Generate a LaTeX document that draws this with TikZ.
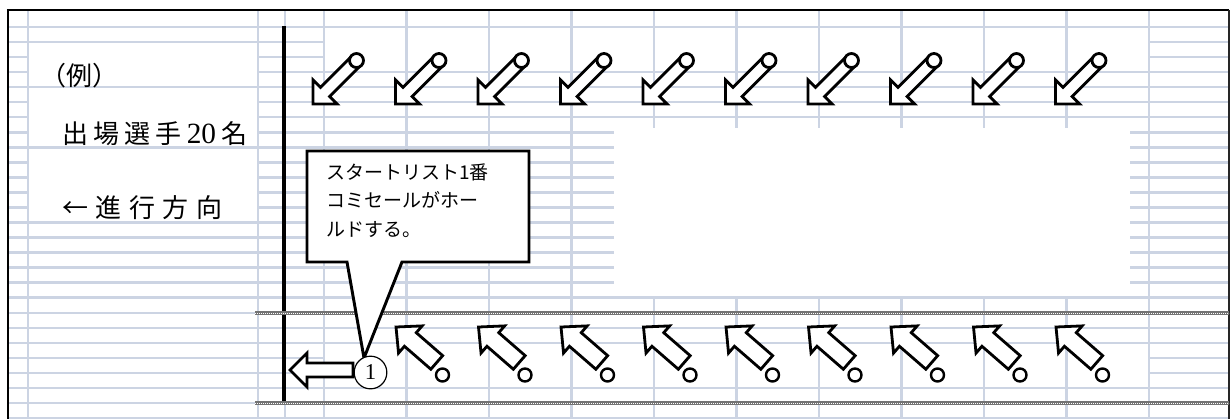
\documentclass[tikz,border=0pt]{standalone}
\usepackage{fontspec}
\setmainfont{Liberation Serif}
\newfontfamily\jp{Noto Sans CJK JP}
\newfontfamily\digits{Liberation Serif}
\definecolor{gridc}{RGB}{204,212,227}
\begin{document}
\begin{tikzpicture}[x=0.75pt,y=-0.75pt,
  gridline/.style={draw=gridc, line width=1.85pt},
  blk/.style={draw=black, fill=white, line width=2.1pt, line join=miter, miter limit=20},
  dbl/.style={draw=black!55, line width=2.3pt},
  dbltex/.style={draw=white, line width=0.6pt, dash pattern=on 0.6pt off 0.9pt},
  lefttxt/.style={inner sep=0pt, anchor=base west, font=\jp\fontsize{19.5}{23}\selectfont},
  calltxt/.style={inner sep=0pt, anchor=base west, font=\jp\fontsize{14.25}{18}\selectfont}]
\useasboundingbox (0,0) rectangle (1230,419);
\fill[white] (0,0) rectangle (1230,419);
% grid
\foreach \k in {0,...,26} \draw[gridline] (8,27+15.04*\k) -- (1229,27+15.04*\k);
\foreach \x in {28,258,285,324,406.5,489,571.5,654,736.5,819,901.5,984,1066.5,1149}
  \draw[gridline] (\x,10) -- (\x,419);
% merged cells
\fill[white] (29.4,43.4) rectangle (256.6,85.8);
\fill[white] (29.4,88.5) rectangle (256.6,146.0);
\fill[white] (29.4,148.7) rectangle (256.6,221.2);
\foreach \a/\b in {324/406.5,406.5/489,489/571.5,571.5/654,654/736.5,736.5/819,819/901.5,901.5/984,984/1066.5,1066.5/1149}{
  \fill[white] (\a+1.4,28.4) rectangle (\b-1.4,70.8);
  \fill[white] (\a+1.4,344.2) rectangle (\b-1.4,386.6);
}
\fill[white] (614,128) rectangle (1130,296);
% borders
\draw[line width=1.9pt] (6.8,10) -- (1229,10);
\draw[line width=1.9pt] (8,10) -- (8,419);
\draw[line width=0.8pt, black!85] (1229,10) -- (1229,419);
\draw[line width=3pt] (284,26) -- (284,404);
\foreach \y in {313,403}{
  \draw[dbl] (255,\y) -- (1229,\y);
  \draw[dbltex] (255,\y) -- (1229,\y);
}
% left texts
\node[lefttxt] (ex) at (40,85) {（例）};
\node[lefttxt] (players) at (62,143) {\makebox[138.75pt][s]{出\hfil 場\hfil 選\hfil 手\hfil {\digits\fontsize{22}{22}\selectfont 20}\hfil 名}};
\node[lefttxt] (dir) at (62,217) {\makebox[120pt][s]{←\hfil 進\hfil 行\hfil 方\hfil 向}};
% callout
\draw[blk, line width=2.2pt] (307,151) -- (529,151) -- (529,262) -- (402,262) -- (364,358) -- (347,262) -- (307,262) -- cycle;
\node[calltxt] (c1) at (326,179) {スタートリスト1番};
\node[calltxt] (c2) at (326,207) {コミセールがホー};
\node[calltxt] (c3) at (326,236) {ルドする。};
% left block arrow
\draw[blk] (290,370) -- (307,353) -- (307,363) -- (353,363) -- (353,377) -- (307,377) -- (307,387) -- cycle;
% circled 1
\node[circle, draw=black, line width=0.9pt, fill=white, minimum size=24.5pt, inner sep=0pt, font=\digits\fontsize{17}{17}\selectfont] (one) at (370.5,372.5) {1};
% top arrows
\foreach \t in {313,395.5,478,560.5,643,725.5,808,890.5,973,1055.5}{
  \begin{scope}[shift={(\t,104)}, rotate=45]
    \draw[blk] (0,0) -- (17,17) -- (17,6.5) -- (59,6.5) -- (59,-6.5) -- (17,-6.5) -- (17,-17) -- cycle;
    \draw[blk] (61.5,0) circle (7);
  \end{scope}
}
% bottom arrows
\foreach \t in {396,478.5,561,643.5,726,808.5,891,973.5,1056}{
  \begin{scope}[shift={(\t,327)}, rotate=-41]
    \draw[blk] (0,0) -- (19,18) -- (19,9) -- (54,9) -- (54,-9) -- (19,-9) -- (19,-18) -- cycle;
  \end{scope}
  \draw[blk, line width=1.8pt] (\t+46.5,375) circle (6.5);
}
\end{tikzpicture}
\end{document}
